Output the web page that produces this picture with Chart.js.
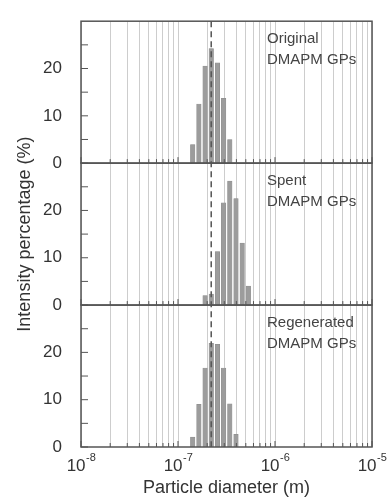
<!DOCTYPE html>
<html>
<head>
<meta charset="utf-8">
<script src="https://cdn.jsdelivr.net/npm/chart.js@4/dist/chart.umd.min.js"></script>
<style>
body{margin:0;background:#fff}
</style>
</head>
<body>
<canvas id="chart" width="387" height="503"></canvas>
<script>
// size bins in nm, intensity in %
const origSize=[141.8,164.2,190.1,220.2,255.0,295.3,342.0]
const origVal=[3.9,12.5,20.5,24.2,21.2,13.7,5.0]

const spentSize=[190.1,220.2,255.0,295.3,342.0,396.1,458.7,531.2]
const spentVal=[2.0,2.3,11.3,21.6,26.2,22.5,13.1,4.0]

const regenSize=[141.8,164.2,190.1,220.2,255.0,295.3,342.0,396.1]
const regenVal=[2.1,9.0,16.7,21.9,21.7,16.7,9.1,2.7]

const panelNames=["Original","Spent","Regenerated"]
const panelSub="DMAPM GPs"

const decades=[1e-8,1e-7,1e-6,1e-5]
const decadeExp=["-8","-7","-6","-5"]
const minorSteps=[2,3,4,5,6,7,8,9]
const yTicks=[0,5,10,15,20,25]
const yLabels=[0,10,20]
const dashX=2.2e-7

const FONT='"Liberation Sans", Arial, sans-serif'
Chart.defaults.font.family=FONT
Chart.defaults.color='#333'

let gridVals=[]
decades.forEach((d,i)=>{
gridVals.push(d)
if(i<decades.length-1) minorSteps.forEach(m=>gridVals.push(d*m))
})

function pts(sizes,vals){
return sizes.map((s,i)=>({x:s*1e-9,y:vals[i]}))
}

function bars(sizes,vals,axis){
return {
type:'bar',
data:pts(sizes,vals),
yAxisID:axis,
backgroundColor:'#9c9c9c',
borderColor:'#8a8a8a',
borderWidth:0.5,
barThickness:4.5,
grouped:false
}
}

function yAxis(i){
return {
type:'linear',
position:'left',
stack:'panels',
stackWeight:1,
offset:false,
min:0,
max:30,
grid:{display:false},
border:{display:false},
ticks:{
stepSize:5,
padding:11,
color:'#333',
font:{size:17},
callback:v=>yLabels.includes(v)?String(v):''
},
afterFit:s=>{s.width=81},
title:{
display:i==1,
text:'Intensity percentage (%)',
color:'#333',
font:{size:18},
padding:{top:14,bottom:0}
}
}
}

function line(ctx,x1,y1,x2,y2){
ctx.beginPath()
ctx.moveTo(x1,y1)
ctx.lineTo(x2,y2)
ctx.stroke()
}

const extras={
id:'extras',
afterDatasetsDraw(c){
const ctx=c.ctx
const x=c.scales.x
const a=c.chartArea
ctx.save()

// dashed reference line
ctx.strokeStyle='#555'
ctx.lineWidth=1.5
ctx.setLineDash([6,4])
const dx=x.getPixelForValue(dashX)
line(ctx,dx,a.top,dx,a.bottom)
ctx.setLineDash([])

panelNames.forEach((name,i)=>{
const y=c.scales['y'+i]
ctx.strokeStyle='#555'
ctx.lineWidth=1.5
ctx.strokeRect(a.left,y.top,a.right-a.left,y.bottom-y.top)
ctx.lineWidth=1
gridVals.forEach(v=>{
const px=x.getPixelForValue(v)
const len=decades.includes(v)?6:4
line(ctx,px,y.bottom,px,y.bottom-len)
})
yTicks.forEach(v=>{
const py=y.getPixelForValue(v)
line(ctx,a.left,py,a.left+7,py)
})
ctx.fillStyle='#444'
ctx.font='15px '+FONT
ctx.textAlign='left'
ctx.textBaseline='middle'
ctx.fillText(name,a.right-105,y.top+18)
ctx.fillText(panelSub,a.right-105,y.top+39)
})

// decade labels with superscript
ctx.fillStyle='#333'
ctx.textBaseline='middle'
ctx.textAlign='left'
decades.forEach((d,i)=>{
const px=x.getPixelForValue(d)
ctx.font='17px '+FONT
const w1=ctx.measureText('10').width
ctx.font='11px '+FONT
const w2=ctx.measureText(decadeExp[i]).width
const x0=px-(w1+w2)/2
ctx.font='17px '+FONT
ctx.fillText('10',x0,a.bottom+19)
ctx.font='11px '+FONT
ctx.fillText(decadeExp[i],x0+w1+0.5,a.bottom+11)
})
ctx.restore()
}
}

// stacked axes are placed bottom-up, so the last panel goes first
new Chart(document.getElementById('chart'),{
type:'bar',
data:{
datasets:[
bars(origSize,origVal,'y0'),
bars(spentSize,spentVal,'y1'),
bars(regenSize,regenVal,'y2')
]
},
options:{
responsive:false,
animation:false,
layout:{padding:{top:12,right:15,left:0,bottom:0}},
plugins:{legend:{display:false},tooltip:{enabled:false}},
scales:{
x:{
type:'logarithmic',
position:'bottom',
min:1e-8,
max:1e-5,
offset:false,
grid:{color:'#cdcdcd',lineWidth:1,drawTicks:false,offset:false},
border:{display:false},
ticks:{display:false},
afterBuildTicks:s=>{s.ticks=gridVals.map(v=>({value:v}))},
afterFit:s=>{s.height=56},
title:{display:true,text:'Particle diameter (m)',color:'#333',font:{size:18},padding:{top:0,bottom:4}}
},
y2:yAxis(2),
y1:yAxis(1),
y0:yAxis(0)
}
},
plugins:[extras]
})
</script>
</body>
</html>
